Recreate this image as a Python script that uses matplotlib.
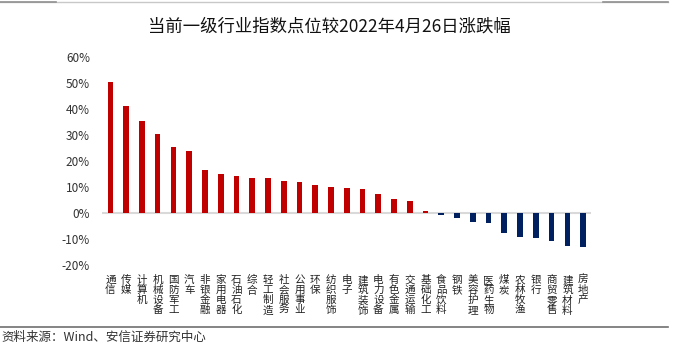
import matplotlib
matplotlib.use('Agg')
import matplotlib.pyplot as plt
from matplotlib.lines import Line2D
from matplotlib.ticker import FuncFormatter

plt.rcParams['font.family'] = ['Noto Sans CJK SC', 'DejaVu Sans']

industries = ['通信', '传媒', '计算机', '机械设备', '国防军工', '汽车', '非银金融', '家用电器',
              '石油石化', '综合', '轻工制造', '社会服务', '公用事业', '环保', '纺织服饰', '电子',
              '建筑装饰', '电力设备', '有色金属', '交通运输', '基础化工', '食品饮料', '钢铁',
              '美容护理', '医药生物', '煤炭', '农林牧渔', '银行', '商贸零售', '建筑材料', '房地产']
change = [50.4, 41.3, 35.3, 30.5, 25.3, 24.0, 16.6, 15.1, 14.3, 13.4, 13.4, 12.2, 11.9, 10.8,
          10.1, 9.7, 9.2, 7.5, 5.4, 4.6, 0.9, -0.5, -1.8, -3.4, -3.8, -7.7, -9.1, -9.6, -10.5,
          -12.4, -12.8]
yticks = [-20, -10, 0, 10, 20, 30, 40, 50, 60]

fig = plt.figure(figsize=(6.77, 3.51), dpi=100)
ax = fig.add_axes([102.5/677, 85.5/351, (591-102.5)/677, (294.3-85.5)/351])

x = list(range(len(industries)))
colors = ['#C00000' if v >= 0 else '#002060' for v in change]
ax.bar(x, change, width=0.36, color=colors, zorder=3)
ax.axhline(0, color='#D9D9D9', lw=1.5, zorder=2)

ax.set_xlim(-0.5, len(industries) - 0.5)
ax.set_ylim(-20, 60)
ax.set_yticks(yticks)
ax.yaxis.set_major_formatter(FuncFormatter(lambda v, p: '%d%%' % v))
ax.set_xticks(x)
ax.set_xticklabels(['\n'.join(s) for s in industries], fontsize=7.6, linespacing=1.0,
                   va='top', color='#222222')
ax.tick_params(axis='x', length=0, pad=7)
ax.tick_params(axis='y', length=0, pad=9, labelsize=8.5, labelcolor='#333333')
for s in ax.spines.values():
    s.set_visible(False)

fig.text(329/677, 1 - 26.5/351, '当前一级行业指数点位较2022年4月26日涨跌幅',
         ha='center', va='center', fontsize=12.5, color='#111111')
fig.text(1/677, 1 - 337/351, '资料来源：Wind、安信证券研究中心',
         ha='left', va='center', fontsize=9, color='#333333')

# frame lines of the report page
fig.add_artist(Line2D([0, 668/677], [1 - 2/351, 1 - 2/351], color='#C8C8C8', lw=1))
fig.add_artist(Line2D([0, 56/677], [1 - 2/351, 1 - 2/351], color='#909090', lw=1.2))
fig.add_artist(Line2D([603/677, 668/677], [1 - 2/351, 1 - 2/351], color='#909090', lw=1.2))
fig.add_artist(Line2D([0, 668/677], [1 - 327/351, 1 - 327/351], color='#707070', lw=1.2))

fig.savefig('out.png', dpi=100)
